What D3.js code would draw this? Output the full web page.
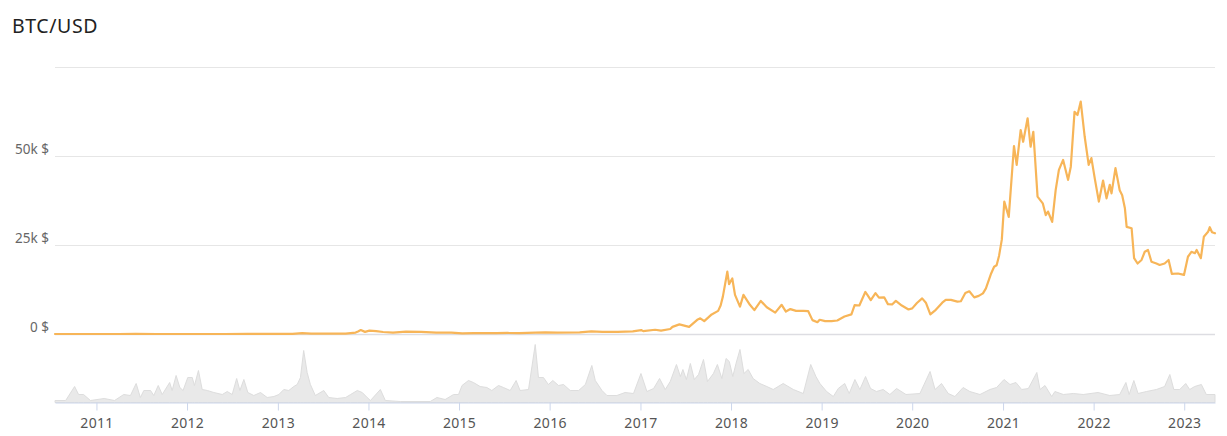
<!DOCTYPE html>
<html>
<head>
<meta charset="utf-8">
<script src="https://cdn.jsdelivr.net/npm/d3@7"></script>
<style>
  html, body { margin: 0; padding: 0; background: #ffffff; }
  svg { display: block; }
</style>
</head>
<body>
<svg id="chart" width="1227" height="436"></svg>
<script>
// ---------------- DATA ----------------
const title = "BTC/USD";

const priceDates = [
  "2010-07-18","2010-10-01","2011-01-01","2011-04-01","2011-06-08","2011-09-01","2011-12-01",
  "2012-03-01","2012-06-01","2012-09-01","2012-12-01","2013-01-15","2013-03-01","2013-04-09",
  "2013-05-15","2013-07-05","2013-10-01","2013-11-10","2013-11-20","2013-12-01","2013-12-18",
  "2014-01-05","2014-02-01","2014-03-01","2014-04-10","2014-06-01","2014-08-01","2014-10-01",
  "2014-12-01","2015-01-14","2015-03-01","2015-06-01","2015-07-15","2015-09-01","2015-11-04",
  "2015-12-15","2016-02-01","2016-05-01","2016-06-17","2016-08-01","2016-10-01","2016-12-01",
  "2017-01-04","2017-01-12","2017-03-01","2017-03-25","2017-05-01","2017-05-10","2017-06-07",
  "2017-07-16","2017-08-20","2017-08-30","2017-09-15","2017-10-15","2017-11-10","2017-11-20",
  "2017-11-29","2017-12-17","2017-12-24","2018-01-06","2018-01-17","2018-02-06","2018-02-20",
  "2018-03-18","2018-04-05","2018-05-01","2018-05-25","2018-06-28","2018-07-24","2018-08-10",
  "2018-08-28","2018-09-20","2018-10-20","2018-11-08","2018-11-25","2018-12-15","2018-12-24",
  "2019-01-15","2019-02-10","2019-03-05","2019-04-03","2019-05-01","2019-05-14","2019-06-02",
  "2019-06-26","2019-07-05","2019-07-18","2019-08-06","2019-08-20","2019-09-10","2019-09-25",
  "2019-10-12","2019-10-27","2019-11-20","2019-12-17","2020-01-01","2020-01-20","2020-02-10",
  "2020-02-25","2020-03-14","2020-04-05","2020-05-01","2020-05-15","2020-06-05","2020-07-01",
  "2020-07-15","2020-08-02","2020-08-18","2020-09-07","2020-09-25","2020-10-12","2020-10-24",
  "2020-11-14","2020-11-26","2020-12-06","2020-12-16","2020-12-27","2021-01-06","2021-01-24",
  "2021-02-14","2021-02-25","2021-03-13","2021-03-23","2021-04-10","2021-04-22","2021-05-03",
  "2021-05-20","2021-06-10","2021-06-22","2021-07-01","2021-07-18","2021-08-01","2021-08-14",
  "2021-08-31","2021-09-20","2021-10-01","2021-10-16","2021-10-28","2021-11-10","2021-11-26",
  "2021-12-12","2021-12-23","2022-01-06","2022-01-22","2022-02-08","2022-02-22","2022-03-07",
  "2022-03-14","2022-03-30","2022-04-16","2022-04-26","2022-05-07","2022-05-14","2022-06-03",
  "2022-06-13","2022-06-27","2022-07-13","2022-07-26","2022-08-08","2022-08-22","2022-09-11",
  "2022-09-24","2022-10-14","2022-10-30","2022-11-12","2022-12-07","2022-12-31","2023-01-16",
  "2023-01-30","2023-02-13","2023-02-20","2023-03-09","2023-03-21","2023-04-07","2023-04-14",
  "2023-04-23","2023-05-05"
];
const priceValues = [
  0.06,0.1,0.3,0.8,30,5,3,
  5,6,11,13,14,35,230,
  120,80,125,400,700,1100,600,
  950,830,560,400,650,590,380,
  370,180,260,230,290,230,400,
  450,370,450,750,600,610,750,
  1100,800,1200,950,1400,2000,2700,
  2000,4100,4400,3600,5500,6500,8000,
  10500,17500,14000,15600,11000,7700,11000,
  8200,6700,9300,7500,6000,8200,6300,
  7000,6500,6500,6400,3900,3300,4000,
  3600,3600,3800,4900,5500,8100,8000,
  11800,10900,9500,11500,10200,10300,8400,
  8300,9300,8000,6900,7200,8700,10000,
  8800,5500,6800,8800,9600,9600,9100,
  9200,11500,12000,10300,10700,11400,12800,
  17000,18900,19300,22000,26500,37200,32900,
  52800,47500,57300,54000,60600,52600,56800,
  38600,36700,33400,34400,31500,40400,46100,
  48900,43300,47000,62400,61500,65300,55400,
  47500,49400,43500,37200,43100,38100,41900,
  39500,46600,40400,39000,35300,30100,29700,
  21300,19800,20800,23100,23600,20300,19800,
  19400,19800,20800,16900,17000,16600,21700,
  23100,22700,23600,21300,27300,28700,30000,
  28600,28300
];

const volumeDates = [
  "2010-07-18","2010-08-30","2010-10-05","2010-10-21","2010-11-10","2010-12-08","2011-02-01",
  "2011-03-15","2011-04-21","2011-05-18","2011-06-10","2011-06-27","2011-07-11","2011-08-07",
  "2011-08-20","2011-09-07","2011-09-23","2011-10-23","2011-11-02","2011-11-18","2011-12-03",
  "2011-12-16","2012-01-04","2012-01-22","2012-01-31","2012-02-16","2012-03-02","2012-03-23",
  "2012-04-18","2012-05-22","2012-06-11","2012-07-01","2012-07-19","2012-08-01","2012-08-17",
  "2012-09-02","2012-09-26","2012-10-23","2012-11-19","2012-12-16","2013-01-05","2013-01-25",
  "2013-02-14","2013-03-06","2013-03-20","2013-04-02","2013-04-15","2013-04-29","2013-05-12",
  "2013-06-01","2013-07-05","2013-07-25","2013-08-28","2013-10-01","2013-10-21","2013-11-17",
  "2013-12-07","2013-12-27","2014-01-09","2014-02-18","2014-03-10","2014-05-09","2014-09-07",
  "2014-10-04","2014-11-06","2014-12-10","2014-12-30","2015-01-13","2015-02-08","2015-02-28",
  "2015-03-27","2015-04-23","2015-05-13","2015-06-09","2015-06-29","2015-07-26","2015-08-19",
  "2015-09-04","2015-10-08","2015-11-04","2015-11-17","2015-12-07","2015-12-27","2016-01-14",
  "2016-02-06","2016-02-26","2016-03-24","2016-04-27","2016-05-24","2016-06-19","2016-07-03",
  "2016-07-30","2016-08-19","2016-09-28","2016-10-31","2016-12-04","2017-01-03","2017-01-27",
  "2017-02-23","2017-03-19","2017-04-11","2017-05-01","2017-05-26","2017-06-11","2017-06-21",
  "2017-07-05","2017-07-21","2017-08-06","2017-08-23","2017-09-12","2017-09-28","2017-10-22",
  "2017-11-07","2017-11-25","2017-12-12","2017-12-25","2018-01-08","2018-01-21","2018-02-06",
  "2018-02-22","2018-03-11","2018-03-31","2018-04-27","2018-05-25","2018-06-20","2018-07-30",
  "2018-09-09","2018-10-19","2018-11-18","2018-12-09","2018-12-25","2019-01-21","2019-02-17",
  "2019-03-09","2019-04-04","2019-04-22","2019-05-15","2019-06-04","2019-06-27","2019-07-17",
  "2019-08-10","2019-09-06","2019-10-03","2019-10-30","2019-12-07","2020-02-01","2020-03-13",
  "2020-04-02","2020-04-28","2020-05-25","2020-06-21","2020-07-24","2020-08-20","2020-09-30",
  "2020-11-09","2020-12-06","2021-01-05","2021-01-29","2021-02-22","2021-03-17","2021-04-13",
  "2021-05-17","2021-05-30","2021-06-19","2021-07-16","2021-07-29","2021-09-01","2021-10-11",
  "2021-11-20","2022-01-19","2022-03-07","2022-04-16","2022-05-11","2022-05-24","2022-06-12",
  "2022-06-29","2022-08-02","2022-09-11","2022-10-14","2022-11-04","2022-11-20","2022-12-14",
  "2023-01-07","2023-01-23","2023-02-12","2023-03-11","2023-03-31","2023-05-05"
];
const volumeValues = [
  2,2,16,8,8,2,4,
  2,8,7,19,5,12,12,
  7,17,8,20,12,27,15,
  12,25,25,17,32,13,12,
  10,8,11,8,24,12,23,
  10,7,10,5,6,8,13,
  12,16,18,25,52,30,18,
  7,12,5,4,5,8,12,
  10,5,2,13,2,1,1,
  5,3,8,8,17,22,20,
  16,15,12,17,15,12,22,
  12,13,58,25,25,18,22,
  17,18,12,12,18,37,22,
  12,7,7,10,9,29,11,
  14,24,13,21,38,26,33,
  23,39,23,28,43,21,29,
  38,24,44,41,26,39,53,
  29,33,24,19,16,13,19,
  13,9,38,26,19,11,6,
  14,19,9,23,13,26,14,
  11,13,8,14,8,9,31,
  13,19,9,6,15,11,8,
  13,15,23,18,20,13,14,
  30,13,17,6,11,8,9,
  8,10,7,8,20,8,22,
  9,11,13,16,28,13,13,
  19,13,16,18,8,8
];

const priceGridValues = [0, 25000, 50000, 75000];
const priceTickLabels = ["0 $", "25k $", "50k $", ""];
const yearTicks = ["2011","2012","2013","2014","2015","2016","2017","2018","2019","2020","2021","2022","2023"];

// ---------------- DRAW ----------------
const parse = d3.timeParse("%Y-%m-%d");
const price = priceDates.map((d, i) => ({ date: parse(d), v: priceValues[i] }));
const volume = volumeDates.map((d, i) => ({ date: parse(d), v: volumeValues[i] }));

const svg = d3.select("#chart");
const plotLeft = 55, plotRight = 1215;
const fontFam = "'Noto Sans', 'Open Sans', sans-serif";

const x = d3.scaleTime()
  .domain([parse(priceDates[0]), parse(priceDates[priceDates.length - 1])])
  .range([plotLeft, plotRight]);

const y = d3.scaleLinear().domain([0, 75000]).range([334, 67]);
const yv = d3.scaleLinear().domain([0, 60]).range([402.5, 342.5]);

// title
svg.append("text")
  .attr("x", 12).attr("y", 33)
  .attr("font-family", fontFam)
  .attr("font-size", 19.5)
  .attr("letter-spacing", 0.6)
  .attr("fill", "#222")
  .text(title);

// gridlines
svg.append("g").selectAll("line")
  .data(priceGridValues)
  .join("line")
  .attr("x1", plotLeft).attr("x2", plotRight)
  .attr("y1", d => Math.round(y(d)) + 0.5)
  .attr("y2", d => Math.round(y(d)) + 0.5)
  .attr("stroke", d => d === 0 ? "#dddde2" : "#e6e6e6")
  .attr("stroke-width", d => d === 0 ? 1.5 : 1);

// y labels
svg.append("g").selectAll("text")
  .data(priceGridValues)
  .join("text")
  .attr("x", 49)
  .attr("y", d => y(d) - 2)
  .attr("text-anchor", "end")
  .attr("font-family", fontFam)
  .attr("font-size", 13.5)
  .attr("fill", "#666")
  .text((d, i) => priceTickLabels[i]);

// volume area
const area = d3.area()
  .x(d => x(d.date))
  .y0(yv(0))
  .y1(d => yv(d.v))
  .curve(d3.curveLinear);

svg.append("path")
  .datum(volume)
  .attr("d", area)
  .attr("fill", "#e9e9e9")
  .attr("stroke", "#dddddd")
  .attr("stroke-width", 1);

// x axis
const xAxis = d3.axisBottom(x)
  .tickValues(yearTicks.map(t => parse(t + "-01-01")))
  .tickFormat(d3.timeFormat("%Y"))
  .tickSize(8)
  .tickSizeOuter(0);

const gx = svg.append("g")
  .attr("transform", `translate(0,${yv(0)})`)
  .call(xAxis);
gx.select(".domain").attr("stroke", "#ccd6eb");
gx.selectAll(".tick line").attr("stroke", "#ccd6eb");
gx.selectAll(".tick text")
  .attr("font-family", fontFam)
  .attr("font-size", 14)
  .attr("letter-spacing", 0.3)
  .attr("fill", "#555")
  .attr("dy", "1.05em");

// price line
const line = d3.line()
  .x(d => x(d.date))
  .y(d => y(d.v))
  .curve(d3.curveLinear);

svg.append("path")
  .datum(price)
  .attr("d", line)
  .attr("fill", "none")
  .attr("stroke", "#f7b558")
  .attr("stroke-width", 2.2)
  .attr("stroke-linejoin", "round")
  .attr("stroke-linecap", "round");
</script>
</body>
</html>
